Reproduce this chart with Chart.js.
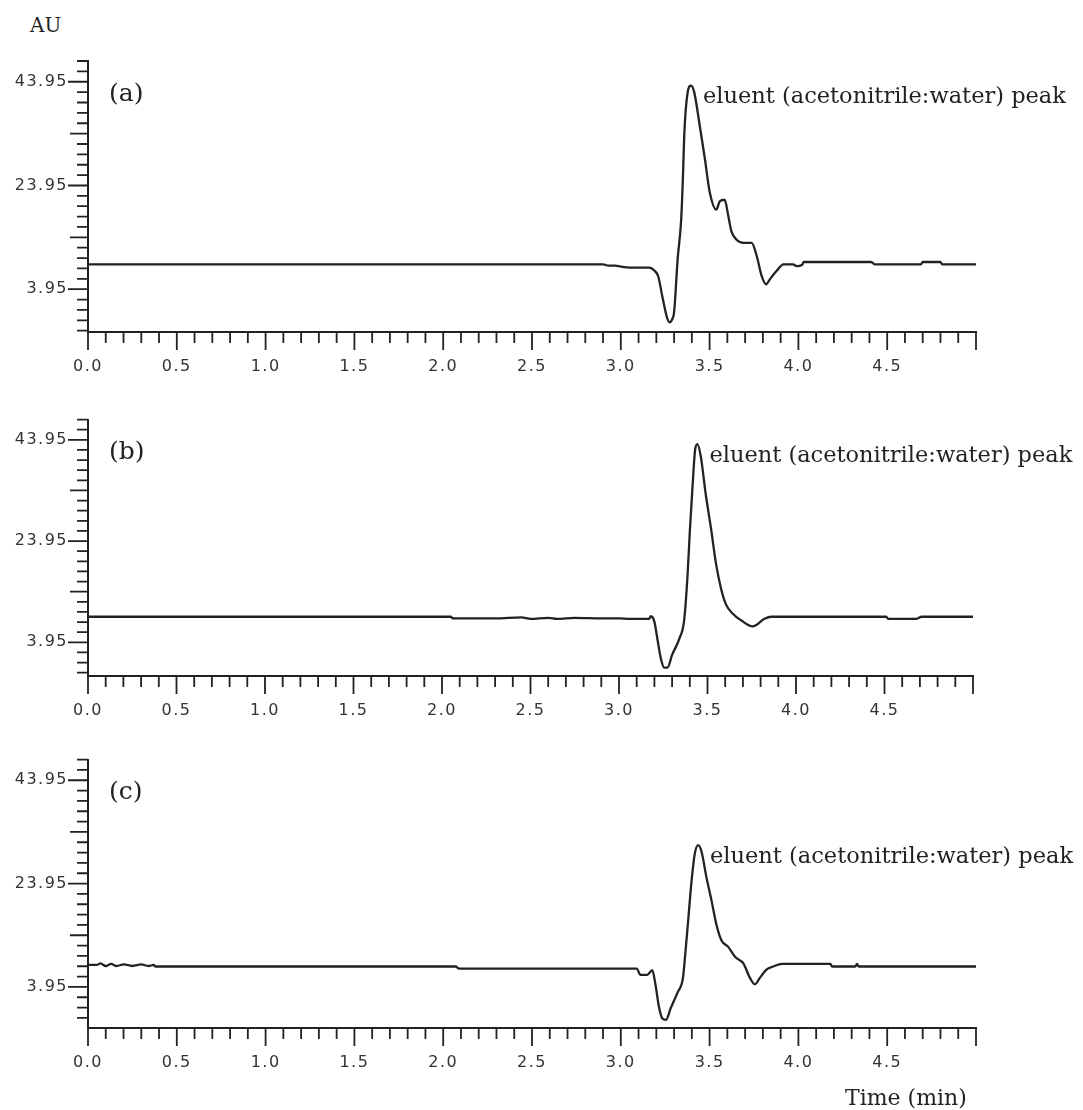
<!DOCTYPE html>
<html>
<head>
<meta charset="utf-8">
<script src="https://cdn.jsdelivr.net/npm/chart.js@4.4.1/dist/chart.umd.min.js"></script>
<style>
  html, body { margin: 0; padding: 0; background: #fff; }
  body { width: 1083px; height: 1110px; position: relative; overflow: hidden; }
  canvas { position: absolute; left: 0; }
  .lbl { position: absolute; font-family: 'DejaVu Serif', serif; color: #222; white-space: nowrap; line-height: 1; }
</style>
</head>
<body>
<div class="lbl" style="left:30px; top:15px; font-size:20px;">AU</div>
<canvas id="chartA" width="1083" height="390" style="top:0px"></canvas>
<canvas id="chartB" width="1083" height="340" style="top:390px"></canvas>
<canvas id="chartC" width="1083" height="380" style="top:730px"></canvas>
<div class="lbl" style="left:845px; top:1087px; font-size:22px;">Time (min)</div>
<script>
// tick labels
const xTickLabels = ['0.0', '0.5', '1.0', '1.5', '2.0', '2.5', '3.0', '3.5', '4.0', '4.5'];
const yTickLabels = ['3.95', '23.95', '43.95'];
const panelLabels = ['(a)', '(b)', '(c)'];
const peakLabel = 'eluent (acetonitrile:water) peak';

// chromatogram (a)
const timeA = [0, 1.5, 2.9, 2.93, 2.97, 3.0, 3.06, 3.16, 3.19, 3.21, 3.237, 3.26, 3.275, 3.29, 3.30,
  3.32, 3.34, 3.35, 3.357, 3.376, 3.395, 3.413, 3.444, 3.473, 3.50, 3.538, 3.557, 3.585, 3.604,
  3.623, 3.652, 3.69, 3.737, 3.765, 3.793, 3.818, 3.84, 3.878, 3.916, 3.97, 3.99, 4.02, 4.03,
  4.41, 4.43, 4.69, 4.70, 4.80, 4.81, 5.0];
const auA = [8.75, 8.75, 8.75, 8.5, 8.5, 8.3, 8.1, 8.1, 7.5, 6.5, 2.0, -1.5, -2.45, -1.8, -0.5,
  9.7, 17.4, 25.7, 33.4, 41.8, 43.2, 42.0, 35.6, 29.2, 22.8, 19.3, 20.9, 21.2, 18.3,
  15.1, 13.5, 12.9, 12.9, 10.4, 6.5, 4.9, 5.9, 7.5, 8.75, 8.75, 8.4, 8.6, 9.2,
  9.2, 8.75, 8.75, 9.2, 9.2, 8.75, 8.75];

// chromatogram (b)
const timeB = [0, 2.05, 2.06, 2.3, 2.45, 2.5, 2.6, 2.65, 2.75, 2.9, 3.0, 3.06, 3.17, 3.18, 3.20,
  3.217, 3.236, 3.255, 3.274, 3.30, 3.34, 3.368, 3.387, 3.40, 3.415, 3.43, 3.443, 3.462, 3.49,
  3.52, 3.548, 3.577, 3.605, 3.643, 3.69, 3.755, 3.822, 3.86, 4.51, 4.52, 4.68, 4.71, 5.0];
const auB = [9.0, 9.0, 8.7, 8.7, 8.9, 8.6, 8.8, 8.6, 8.8, 8.7, 8.7, 8.6, 8.6, 9.1, 8.0,
  4.6, 0.83, -1.04, -1.04, 1.46, 4.6, 8.3, 17.0, 25.8, 34.5, 41.95, 43.1, 40.7, 33.2,
  26.4, 19.5, 14.5, 11.4, 9.6, 8.3, 7.1, 8.6, 9.0, 9.0, 8.6, 8.6, 9.0, 9.0];

// chromatogram (c)
const timeC = [0, 0.05, 0.07, 0.1, 0.13, 0.16, 0.2, 0.25, 0.3, 0.34, 0.37, 0.38, 2.07, 2.09, 3.09,
  3.11, 3.15, 3.177, 3.195, 3.215, 3.234, 3.255, 3.28, 3.32, 3.35, 3.364, 3.383, 3.397, 3.416,
  3.435, 3.454, 3.482, 3.51, 3.54, 3.567, 3.605, 3.643, 3.69, 3.727, 3.755, 3.783, 3.82, 3.858,
  3.907, 4.18, 4.19, 4.32, 4.33, 4.34, 5.0];
const auC = [8.23, 8.23, 8.5, 8.0, 8.4, 8.0, 8.3, 8.0, 8.3, 8.0, 8.2, 7.9, 7.9, 7.5, 7.5,
  6.3, 6.3, 7.2, 4.45, 0.05, -2.15, -2.4, -0.26, 2.9, 5.7, 10.7, 18.3, 23.95, 29.6,
  31.4, 30.2, 25.2, 20.8, 15.8, 12.95, 11.7, 9.8, 8.5, 5.7, 4.45, 5.7, 7.3, 7.9,
  8.4, 8.4, 7.9, 7.9, 8.4, 7.9, 7.9];

const xMax = 5.0;
const yTop = 47.95;
const yMinorStep = 2;
const xMinorStep = 0.1;
const ink = '#222';

// tick marks of three lengths, like the instrument printout
const tickMarks = {
  id: 'tickMarks',
  beforeDraw(chart) {
    chart.ctx.letterSpacing = '1.5px';
  },
  afterDraw(chart) {
    const { ctx, chartArea, scales } = chart;
    ctx.save();
    ctx.strokeStyle = ink;
    ctx.lineWidth = 1.8;
    ctx.beginPath();
    scales.x.ticks.forEach(t => {
      const px = scales.x.getPixelForValue(t.value);
      const major = Math.abs(t.value * 2 - Math.round(t.value * 2)) < 1e-6;
      ctx.moveTo(px, chartArea.bottom);
      ctx.lineTo(px, chartArea.bottom + (major ? 18 : 11));
    });
    scales.y.ticks.forEach(t => {
      const py = scales.y.getPixelForValue(t.value);
      const k = (t.value - 3.95) / 10;
      const labelled = yTickLabels.some(l => Math.abs(parseFloat(l) - t.value) < 1e-6);
      const medium = Math.abs(k - Math.round(k)) < 1e-6;
      const len = labelled ? 20 : (medium ? 18 : 11);
      ctx.moveTo(chartArea.left, py);
      ctx.lineTo(chartArea.left - len, py);
    });
    ctx.stroke();
    ctx.restore();
  }
};

const panelText = {
  id: 'panelText',
  afterDatasetsDraw(chart, args, opts) {
    const { ctx, chartArea } = chart;
    const data = chart.data.datasets[0].data;
    let top = 0;
    data.forEach((p, i) => { if (p.y > data[top].y) top = i; });
    const pt = chart.getDatasetMeta(0).data[top];
    ctx.save();
    ctx.letterSpacing = '0px';
    ctx.fillStyle = ink;
    ctx.textBaseline = 'middle';
    ctx.font = '25px "DejaVu Serif"';
    ctx.fillText(opts.label, chartArea.left + 21, chartArea.top + 33);
    ctx.font = '22.5px "DejaVu Serif"';
    ctx.fillText(peakLabel, pt.x + 12, pt.y + 12);
    ctx.restore();
  }
};

function makeChart(id, times, values, label, yMin, pad, xAxisHeight) {
  const points = times.map((t, i) => ({ x: t, y: values[i] }));
  return new Chart(document.getElementById(id), {
    type: 'line',
    data: {
      datasets: [{
        data: points,
        borderColor: ink,
        borderWidth: 2.3,
        pointRadius: 0,
        cubicInterpolationMode: 'monotone',
        fill: false
      }]
    },
    options: {
      responsive: false,
      animation: false,
      layout: { padding: { left: 0, top: pad.top, right: pad.right, bottom: 0 } },
      plugins: {
        legend: { display: false },
        tooltip: { enabled: false },
        panelText: { label: label }
      },
      scales: {
        x: {
          type: 'linear',
          min: 0,
          max: xMax,
          afterBuildTicks(scale) {
            const ticks = [];
            for (let i = 0; i <= Math.round(xMax / xMinorStep); i++) ticks.push({ value: Math.round(i * xMinorStep * 10) / 10 });
            scale.ticks = ticks;
          },
          afterFit(scale) { scale.height = xAxisHeight; },
          grid: { drawOnChartArea: false, drawTicks: false },
          border: { display: true, color: ink, width: 2 },
          ticks: {
            autoSkip: false,
            maxRotation: 0,
            padding: 25,
            color: '#333',
            font: { family: 'DejaVu Sans', size: 16 },
            callback(v) {
              const l = xTickLabels.find(s => Math.abs(parseFloat(s) - v) < 1e-6);
              return l === undefined ? '' : l;
            }
          }
        },
        y: {
          type: 'linear',
          min: yMin,
          max: yTop,
          afterBuildTicks(scale) {
            const ticks = [];
            for (let v = yTop; v >= yMin - 1e-6; v -= yMinorStep) ticks.push({ value: Math.round(v * 100) / 100 });
            scale.ticks = ticks;
          },
          afterFit(scale) { scale.width = 88; },
          grid: { drawOnChartArea: false, drawTicks: false },
          border: { display: true, color: ink, width: 2 },
          ticks: {
            autoSkip: false,
            padding: 20,
            color: '#333',
            font: { family: 'DejaVu Sans', size: 16 },
            callback(v) {
              const l = yTickLabels.find(s => Math.abs(parseFloat(s) - v) < 1e-6);
              return l === undefined ? '' : l;
            }
          }
        }
      }
    },
    plugins: [tickMarks, panelText]
  });
}

makeChart('chartA', timeA, auA, panelLabels[0], -4.3, { top: 61, right: 107 }, 58);
makeChart('chartB', timeB, auB, panelLabels[1], -2.7, { top: 15, right: 110 }, 54);
makeChart('chartC', timeC, auC, panelLabels[2], -4.0, { top: 23, right: 107 }, 82);
</script>
</body>
</html>
